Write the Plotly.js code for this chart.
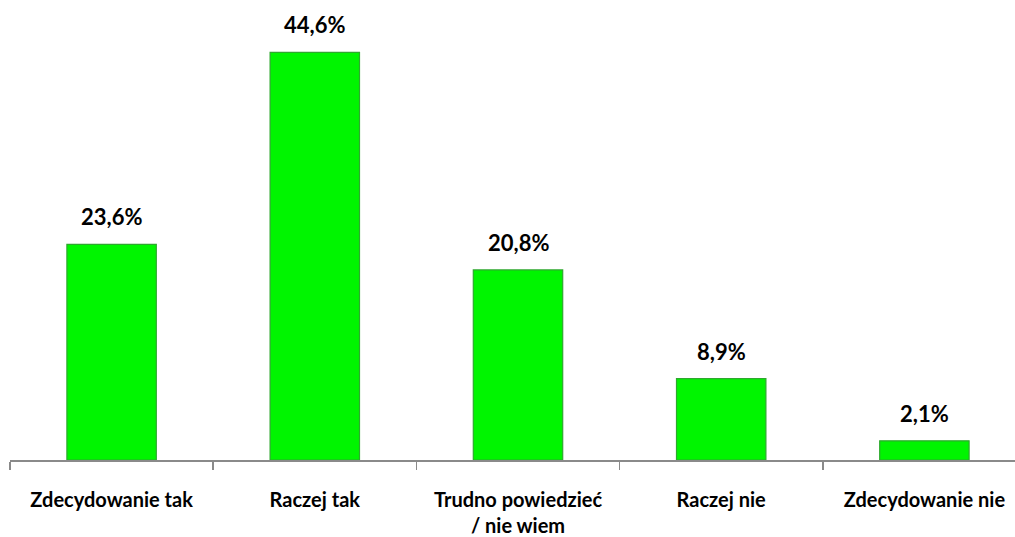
<!DOCTYPE html>
<html>
<head>
<meta charset="utf-8">
<script src="https://cdn.plot.ly/plotly-3.0.1.min.js"></script>
<style>
html,body{margin:0;padding:0;overflow:hidden;background:#fff;}
#chart{width:1030px;height:537px;}
</style>
</head>
<body>
<div id="chart"></div>
<script>
const categories = ["Zdecydowanie tak", "Raczej tak", "Trudno powiedzieć<br>/ nie wiem", "Raczej nie", "Zdecydowanie nie"];
const values = [23.6, 44.6, 20.8, 8.9, 2.1];
const valueLabels = ["23,6%", "44,6%", "20,8%", "8,9%", "2,1%"];

const trace = {
  type: "bar",
  x: categories,
  y: values,
  width: 0.44,
  marker: {color: "#00f500", line: {color: "#2ea82e", width: 1.2}},
  hoverinfo: "none"
};

const annotations = categories.map((c, i) => ({
  x: c,
  y: values[i],
  xref: "x",
  yref: "y",
  text: valueLabels[i],
  showarrow: false,
  yanchor: "bottom",
  yshift: 12,
  font: {family: "Lato, sans-serif", size: 22, color: "#000", weight: "bold"}
}));

const layout = {
  width: 1030,
  height: 537,
  margin: {l: 10, r: 4, t: 3, b: 77},
  paper_bgcolor: "#fff",
  plot_bgcolor: "#fff",
  showlegend: false,
  bargap: 0.56,
  annotations: annotations,
  xaxis: {
    type: "category",
    showline: true,
    linecolor: "#8a8a8a",
    linewidth: 1.5,
    ticks: "outside",
    tickson: "boundaries",
    ticklen: 8,
    tickcolor: "#8a8a8a",
    tickwidth: 1.5,
    ticklabelstandoff: 21,
    tickfont: {family: "Lato, sans-serif", size: 20, color: "#000", weight: "bold"},
    showgrid: false,
    zeroline: false
  },
  yaxis: {
    range: [0, 50],
    visible: false,
    showgrid: false,
    zeroline: false
  }
};

Plotly.newPlot("chart", [trace], layout, {displayModeBar: false, staticPlot: true});
</script>
</body>
</html>
